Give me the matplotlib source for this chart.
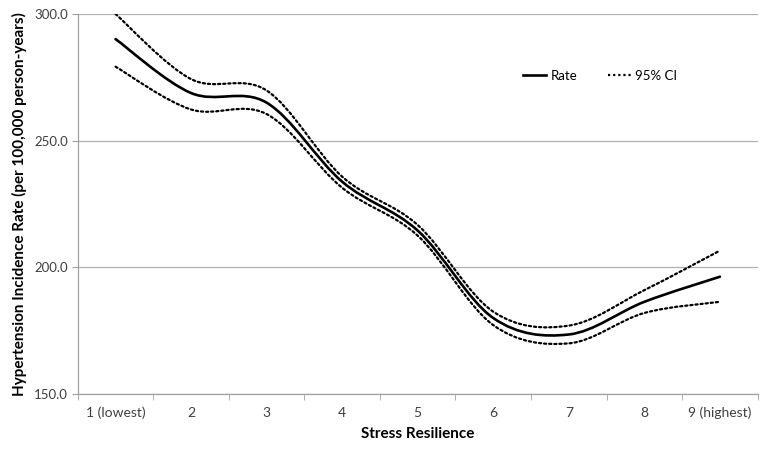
import matplotlib
matplotlib.use("Agg")
import matplotlib.pyplot as plt
import numpy as np
from matplotlib.path import Path
from matplotlib.patches import PathPatch
from matplotlib.lines import Line2D

categories = ["1 (lowest)", "2", "3", "4", "5", "6", "7", "8", "9 (highest)"]
rate = [290.1, 268.8, 265.0, 233.8, 214.5, 180.0, 173.5, 186.4, 196.3]
ci_upper = [300.0, 274.3, 269.8, 235.8, 216.7, 182.5, 177.0, 191.0, 206.6]
ci_lower = [279.2, 262.3, 260.5, 231.4, 212.5, 177.2, 170.0, 182.0, 186.4]

plt.rcParams["font.family"] = ["Lato", "DejaVu Sans"]


def smooth_path(xs, ys):
    """Excel-style smoothed line: Catmull-Rom turned into cubic Bezier segments."""
    pts = np.column_stack([xs, ys]).astype(float)
    n = len(pts)
    verts = [pts[0]]
    codes = [Path.MOVETO]
    for i in range(n - 1):
        p_prev = pts[i - 1] if i > 0 else pts[i]
        p_next2 = pts[i + 2] if i + 2 < n else pts[i + 1]
        c1 = pts[i] + (pts[i + 1] - p_prev) / 6
        c2 = pts[i + 1] - (p_next2 - pts[i]) / 6
        verts += [c1, c2, pts[i + 1]]
        codes += [Path.CURVE4] * 3
    return Path(verts, codes)


fig = plt.figure(figsize=(7.7, 4.5), dpi=100)
ax = fig.add_axes([0.101, 0.1244, 0.883, 0.8445])

x = np.arange(len(categories))
dotted = (0, (1, 1.3))
for vals, ls, lw in [(rate, "-", 1.9), (ci_upper, dotted, 1.6), (ci_lower, dotted, 1.6)]:
    ax.add_patch(PathPatch(smooth_path(x, vals), fill=False, edgecolor="black",
                           linestyle=ls, linewidth=lw, capstyle="round", zorder=3))

ax.set_xlim(-0.5, len(categories) - 0.5)
ax.set_ylim(150, 300)
ax.set_yticks([150, 200, 250, 300])
ax.set_yticklabels([f"{v:.1f}" for v in [150, 200, 250, 300]])
ax.set_xticks(x)
ax.set_xticklabels(categories)
ax.set_xticks(np.arange(-0.5, len(categories)), minor=True)
ax.tick_params(axis="x", which="major", length=0, pad=9, labelsize=10, labelcolor="#404040")
ax.tick_params(axis="x", which="minor", length=4, color="#a0a0a0", direction="out")
ax.tick_params(axis="y", length=4, color="#a0a0a0", labelsize=9.5, labelcolor="#404040", pad=3)

ax.grid(True, axis="y", color="#b0b0b0", linewidth=0.9)
ax.set_axisbelow(True)
for side in ["top", "right"]:
    ax.spines[side].set_visible(False)
for side in ["left", "bottom"]:
    ax.spines[side].set_color("#a0a0a0")
    ax.spines[side].set_linewidth(0.9)

ax.set_xlabel("Stress Resilience", fontsize=11, fontweight="bold", labelpad=6)
ax.set_ylabel("Hypertension Incidence Rate (per 100,000 person-years)",
              fontsize=11, fontweight="bold", labelpad=5)

handles = [Line2D([], [], color="black", linewidth=1.9),
           Line2D([], [], color="black", linewidth=1.6, linestyle=dotted)]
ax.legend(handles, ["Rate", "95% CI"], loc="center left", bbox_to_anchor=(0.637, 0.837),
          ncol=2, frameon=False, fontsize=9.5, handlelength=1.8, handletextpad=0.3,
          columnspacing=2.3)

fig.savefig("out.png", dpi=100)
